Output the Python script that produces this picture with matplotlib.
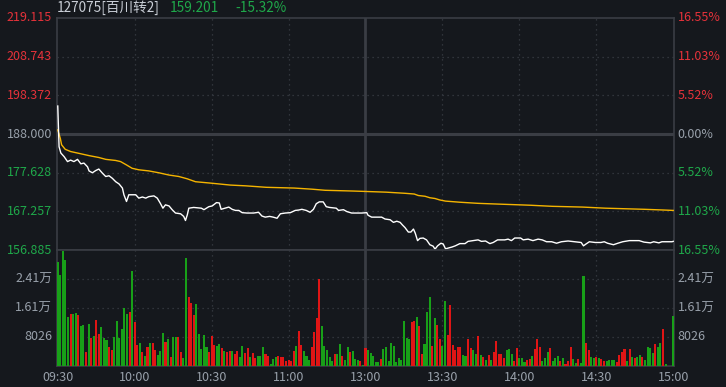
import numpy as np
import matplotlib.pyplot as plt
from matplotlib.transforms import blended_transform_factory as blend

plt.rcParams['font.family'] = ['Noto Sans CJK SC', 'DejaVu Sans']

# ---- data (minutes since 09:30, lunch break removed) ----
prev_close = 188.0
last_price = 159.201

price_t = [0, 0.5, 1.2, 2.5, 3.8, 5, 6.3, 7.7, 9, 10.2,
           11.6, 12.2, 13.5, 14.8, 16, 17.4, 18.7, 20, 21.3, 22.6,
           23.9, 25.2, 25.8, 26.8, 27.7, 29, 30.4, 31.6, 33, 34.3,
           35.5, 37.5, 38.8, 40, 41, 42, 43.4, 44.6, 45.9, 47.9,
           49.1, 49.8, 50.5, 51.1, 53, 56, 57, 58.9, 60.2, 61.9,
           63, 63.7, 64.7, 66.7, 68, 69.3, 70.6, 71.9, 73.8, 76.4,
           78.3, 79.6, 80.9, 82.6, 84, 85.5, 86.8, 88.7, 90.7, 92.6,
           93.9, 95.2, 96.9, 98.4, 99.7, 100.8, 102, 103.5, 104.7, 106,
           108.6, 109.5, 111.4, 112.7, 114.6, 116.6, 118.6, 120.5, 121, 122.4,
           126.3, 127.6, 129.6, 130.9, 132.2, 133.5, 134.4, 135.4, 136.7, 137.7,
           138.7, 139.4, 140.3, 141.2, 142.5, 143.8, 145.1, 146.4, 147.1, 148.1,
           149.4, 150.3, 151.2, 152.2, 153.8, 155, 156.8, 158.8, 160, 162,
           163.9, 165.2, 166.8, 168.5, 169.8, 171.5, 174.3, 175.6, 176.9, 178.2,
           180.5, 181.5, 183.4, 185.3, 187.3, 188.9, 190.6, 192.6, 194.5, 196.4,
           199, 201.6, 204.1, 205, 206, 207.3, 209.6, 211.8, 213.1, 214.4,
           216.7, 218.4, 220.3, 222.9, 226.7, 228.6, 231.1, 232.4, 234.4, 235.6,
           239.5, 240]
price_v = [195.5, 184.6, 182.9, 181.9, 180.6, 181.0, 180.6, 181.2, 180.0, 180.2,
           179.2, 178.1, 177.6, 178.2, 178.6, 177.5, 176.6, 176.8, 176.1, 175.2,
           174.6, 173.5, 171.7, 169.9, 171.7, 171.7, 171.7, 170.8, 171.1, 170.8,
           171.2, 171.4, 170.8, 169.4, 168.1, 169.0, 168.7, 167.7, 166.8, 166.6,
           165.9, 164.8, 166.3, 168.1, 168.3, 168.1, 167.7, 168.5, 168.7, 169.6,
           169.5, 167.8, 168.0, 168.4, 167.8, 167.5, 167.5, 166.9, 166.8, 166.8,
           167.0, 166.0, 165.7, 165.9, 165.7, 165.4, 166.6, 166.8, 166.9, 167.5,
           167.6, 167.8, 167.5, 167.0, 167.8, 169.3, 169.8, 169.8, 168.5, 168.3,
           168.1, 167.5, 167.7, 167.2, 166.8, 166.8, 166.8, 166.9, 166.2, 165.7,
           165.7, 165.2, 165.0, 164.3, 164.6, 164.3, 163.6, 162.9, 161.7, 161.7,
           162.5, 161.4, 159.4, 160.0, 160.1, 159.6, 158.3, 157.9, 157.1, 158.0,
           158.7, 158.5, 157.2, 157.4, 157.7, 158.0, 158.6, 158.6, 159.2, 159.4,
           159.6, 159.2, 159.3, 158.6, 158.9, 159.6, 159.6, 159.8, 159.4, 160.1,
           160.1, 159.6, 159.8, 159.4, 159.8, 159.6, 159.1, 159.1, 158.7, 159.1,
           159.3, 159.1, 158.9, 158.0, 158.5, 159.1, 158.9, 158.9, 159.1, 158.7,
           158.3, 158.7, 159.1, 159.4, 159.4, 159.0, 158.8, 159.1, 158.8, 159.1,
           159.1, 159.2]

avg_t = [0, 1, 1.5, 2.9, 5, 8.3, 12.2, 16, 18.7, 22.6,
         24.5, 26.8, 29, 31.6, 35.5, 39.4, 43.3, 47.2, 50.4, 53.7,
         60, 67.3, 73.2, 81.3, 92.2, 99.1, 104.3, 115.3, 128, 135.3,
         139, 140.6, 143.2, 145.1, 147.1, 149, 151.2, 153.1, 156.8, 163.9,
         171.7, 184, 192.9, 204.6, 213.6, 228.8, 236.6, 240]
avg_v = [189.1, 186.8, 185.1, 183.9, 183.3, 182.8, 182.2, 181.7, 181.2, 180.9,
         180.6, 179.7, 178.8, 178.4, 178.1, 177.6, 177.0, 176.6, 176.0, 175.2,
         174.8, 174.3, 174.1, 173.7, 173.5, 173.2, 172.9, 172.7, 172.4, 172.1,
         171.9, 171.5, 171.3, 170.9, 170.7, 170.3, 170.0, 169.9, 169.7, 169.4,
         169.2, 168.9, 168.6, 168.4, 168.1, 167.8, 167.6, 167.5]

# one bar per minute, 241 bars (15 per row)
volume = [28890, 25200, 31840, 29350, 13480, 14400, 14400, 14580, 14120, 11080, 11350, 3970, 11630, 7850, 8310,
          12740, 8860, 10710, 7850, 7200, 5350, 4430, 7940, 12460, 7850, 10250, 15970, 14400, 15040, 26310,
          12280, 5810, 6460, 3970, 2770, 5350, 6460, 6280, 4430, 3050, 4250, 9230, 6740, 7480, 2580,
          7940, 7940, 7940, 3780, 2310, 30000, 19200, 17350, 14120, 17170, 8770, 4710, 8580, 5350, 3970,
          8400, 5810, 5630, 6000, 5080, 4250, 3970, 4250, 4150, 3320, 4150, 2580, 5540, 3510, 4890,
          2500, 3510, 2310, 2770, 2770, 5350, 3320, 2770, 550, 1940, 2400, 2770, 2400, 2400, 1480,
          1660, 1480, 4150, 5540, 9690, 5810, 4150, 2770, 1660, 5350, 9510, 13380, 24090, 11080, 5540,
          4430, 2400, 1480, 3320, 3320, 6090, 2770, 1660, 5170, 3970, 4250, 1940, 1660, 1480, 300,
          5080, 4430, 3510, 2770, 1200, 1020, 1940, 4710, 5170, 1480, 6460, 5540, 1000, 2310, 1660,
          12460, 7850, 7480, 12090, 12460, 13480, 11080, 3320, 6000, 15040, 19010, 5540, 13200, 11350, 7480,
          5540, 18000, 8580, 16890, 5810, 4430, 5170, 5350, 3050, 2770, 7480, 4890, 4430, 3230, 8310,
          3050, 2400, 1660, 3050, 1660, 3970, 7010, 3320, 3320, 2310, 4430, 4710, 3320, 1480, 4890,
          2310, 2310, 1200, 1660, 1850, 2770, 4620, 7380, 5350, 1480, 2120, 3970, 4890, 1480, 2310,
          2770, 1380, 2120, 550, 1480, 5350, 1850, 920, 1850, 740, 24920, 6460, 4430, 2580, 2120,
          2400, 2120, 1850, 1480, 1480, 1660, 1660, 1660, 1200, 3050, 3970, 4710, 1480, 4710, 2580,
          2120, 2400, 3050, 2580, 1660, 5170, 4890, 3690, 6000, 5170, 6280, 10250, 550, 0, 0, 13850]
# r = up minute, g = down minute (15 per chunk, matching the rows above)
vol_dir = ("gggggrggrggrgrg" "rrgggrrggggggrg" "rrgrgrgrrgggrgr"
           "ggrrggrrrgggggr" "rrggrgrrgrrggrr" "grrgggrrgggrrrr"
           "rrrgrrgggrrrrgg" "gggrggrggrgggrg" "rgggggrgggggggg"
           "gggrrgrrgggrgrr" "ggrrrrrrggrrggr" "grgrgrrrrrgggrr"
           "gggrrgrrrgggrgg" "grgrrrggrggrrgg" "rgrrggggrrrrgrg"
           "rggrggggrggrgggg")

times = [0, 30, 60, 90, 120, 150, 180, 210, 240]
time_labels = ['09:30', '10:00', '10:30', '11:00', '13:00', '13:30', '14:00', '14:30', '15:00']
price_ticks = [156.885, 167.257, 177.628, 188.000, 198.372, 208.743, 219.115]
pct_labels = ['16.55%', '11.03%', '5.52%', '0.00%', '5.52%', '11.03%', '16.55%']
vol_ticks = [8026, 16052, 24078]
vol_labels = ['8026', '1.61万', '2.41万']

# ---- style ----
BG = '#15181d'
FRAME = '#3a3d44'
GRID = '#3a3e46'
RED = '#e5323a'
GREEN = '#1fa84a'
BAR_RED = '#e01515'
BAR_GREEN = '#18a018'
GRAY = '#98a0aa'
DOT = (0, (1, 3))

fig = plt.figure(figsize=(7.26, 3.87), dpi=100, facecolor=BG)
W, H = 726, 387
x0, x1 = 57, 674
ax = fig.add_axes([x0 / W, 1 - 250 / H, (x1 - x0) / W, (250 - 18) / H], facecolor=BG)
axv = fig.add_axes([x0 / W, 1 - 366 / H, (x1 - x0) / W, (366 - 250) / H], facecolor=BG, sharex=ax)

ax.set_xlim(-0.3, 240.3)
ax.set_ylim(price_ticks[0], price_ticks[-1])
axv.set_ylim(0, 4 * 8026)

for a in (ax, axv):
    a.set_xticks([])
    a.set_yticks([])
    for s in a.spines.values():
        s.set_color(FRAME)
        s.set_linewidth(1.2)
    for m in times[1:-1]:
        if m == 120:
            a.axvline(m, color=FRAME, lw=2, zorder=1)
        else:
            a.axvline(m, color=GRID, lw=0.9, ls=DOT, zorder=1)

for p in price_ticks[1:-1]:
    if p == prev_close:
        ax.axhline(p, color=FRAME, lw=2.2, zorder=1)
    else:
        ax.axhline(p, color=GRID, lw=0.9, ls=DOT, zorder=1)
for v in vol_ticks:
    axv.axhline(v, color=GRID, lw=0.9, ls=DOT, zorder=1)

ax.plot(avg_t, avg_v, color='#f5b400', lw=1.0, zorder=3)
ax.plot(price_t, price_v, color='white', lw=1.0, zorder=4)

bar_colors = [BAR_RED if c == 'r' else BAR_GREEN for c in vol_dir]
axv.bar(np.arange(len(volume)), volume, width=0.8, color=bar_colors,
        antialiased=False, linewidth=0, zorder=3)

# axis labels
fs = 9
tl = blend(ax.transAxes, ax.transData)
for p, pl in zip(price_ticks, pct_labels):
    col = GRAY if p == prev_close else (RED if p > prev_close else GREEN)
    ax.text(-0.008, p, f'{p:.3f}', transform=tl, ha='right', va='center', color=col, fontsize=fs)
    ax.text(1.006, p, pl, transform=tl, ha='left', va='center', color=col, fontsize=fs)

tv = blend(axv.transAxes, axv.transData)
for v, vl in zip(vol_ticks, vol_labels):
    axv.text(-0.008, v, vl, transform=tv, ha='right', va='center', color=GRAY, fontsize=fs)
    axv.text(1.006, v, vl, transform=tv, ha='left', va='center', color=GRAY, fontsize=fs)

tt = blend(axv.transData, axv.transAxes)
for m, lab in zip(times, time_labels):
    axv.text(m, -0.1, lab, transform=tt, ha='center', va='center', color=GRAY, fontsize=fs)

# header
chg = (last_price - prev_close) / prev_close * 100
hfs = 9.8
fig.text(57 / W, 1 - 8 / H, '127075[百川转2]', color='#c9ced6', fontsize=hfs, va='center')
fig.text(170 / W, 1 - 8 / H, f'{last_price:.3f}', color=GREEN, fontsize=hfs, va='center')
fig.text(235 / W, 1 - 8 / H, f'{chg:.2f}%', color=GREEN, fontsize=hfs, va='center')

fig.savefig('out.png', dpi=100, facecolor=BG)
